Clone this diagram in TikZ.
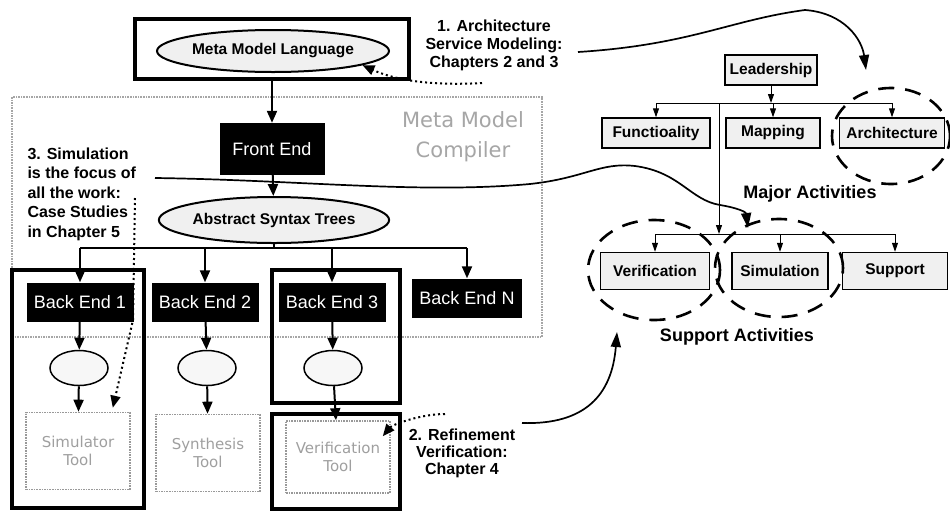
\documentclass[tikz,border=0pt]{standalone}
\usepackage{fontspec}
\setmainfont{Liberation Sans}
\newfontfamily\widefont{DejaVu Sans}
\usetikzlibrary{arrows.meta,shapes.geometric}

\begin{document}
\begin{tikzpicture}[x=1pt, y=-1pt,
  thickframe/.style = {draw, line width=4pt, inner sep=0pt},
  blackbox/.style = {fill=black, text=white, inner sep=0pt, minimum width=107pt, minimum height=39pt, font=\fontsize{18}{20}\selectfont},
  bigoval/.style = {ellipse, draw, line width=2pt, fill=black!6, inner sep=0pt, font=\bfseries\fontsize{15.5}{18}\selectfont},
  smalloval/.style = {ellipse, draw, line width=1.5pt, fill=black!3, minimum width=58pt, minimum height=35pt, inner sep=0pt},
  toolbox/.style = {draw=gray!80, densely dotted, line width=1.6pt, text=gray!75, minimum width=104pt, minimum height=77pt, inner sep=0pt, align=center, font=\widefont\fontsize{15}{18}\selectfont},
  actbox/.style = {draw, line width=1.4pt, fill=black!6, inner sep=0pt, minimum height=30pt, font=\bfseries\fontsize{15.5}{18}\selectfont},
  ring/.style = {ellipse, draw, line width=2.6pt, dash pattern=on 16pt off 11pt},
  note/.style = {align=center, font=\bfseries\fontsize{16}{18}\selectfont},
  flow/.style = {line width=2pt, -{Triangle[length=12pt,width=10pt]}},
  treearrow/.style = {line width=1pt, -{Triangle[length=9pt,width=6pt]}},
  pointer/.style = {line width=1.7pt, -{Triangle[length=15pt,width=10pt]}},
  hint/.style = {line width=2pt, dash pattern=on 2pt off 3pt, -{Triangle[length=12pt,width=10pt]}}
]
\useasboundingbox (0,0) rectangle (950,512);

% compiler area
\node[draw=gray!70, densely dotted, line width=1.6pt, fill=white, minimum width=530pt, minimum height=240pt, inner sep=0pt] (compiler) at (277,217) {};
\node[text=gray!70, align=center, font=\widefont\fontsize{21}{30}\selectfont] (compilername) at (463,137) {Meta Model\\Compiler};

\node[thickframe, minimum width=274pt, minimum height=60pt] (mmlframe) at (272,49) {};
\node[bigoval, minimum width=232pt, minimum height=42pt] (mml) at (273,51) {Meta Model Language};
\node[blackbox, minimum width=105pt, minimum height=52pt] (frontend) at (272,149) {Front End};
\node[bigoval, minimum width=228pt, minimum height=46pt] (ast) at (274,220) {Abstract Syntax Trees};
\coordinate (bus) at (274,248);

% back ends
\node[thickframe, minimum width=132pt, minimum height=238pt] (frameone) at (78,389) {};
\node[thickframe, minimum width=128pt, minimum height=133pt] (framethree) at (336,336.5) {};
\node[thickframe, minimum width=128pt, minimum height=95pt] (frameverif) at (336,461) {};
\node[blackbox] (beone) at (80,302) {Back End 1};
\node[blackbox] (betwo) at (205,302) {Back End 2};
\node[blackbox] (bethree) at (332,302) {Back End 3};
\node[blackbox, minimum width=110pt] (ben) at (467,298) {Back End N};
\node[smalloval] (ovone) at (79,368) {};
\node[smalloval] (ovtwo) at (207,368) {};
\node[smalloval] (ovthree) at (333,368) {};
\node[toolbox] (simtool) at (78,451) {Simulator\\Tool};
\node[toolbox] (syntool) at (208,453) {Synthesis\\Tool};
\node[toolbox, minimum height=72pt] (vertool) at (338,457) {Verification\\Tool};

\draw[flow] (mmlframe.south) -- (frontend.north);
\draw[flow] (frontend) -- (ast);
\draw[line width=2pt] (ast.south) -- (bus);
\draw[line width=2pt] (beone.north |- bus) -- (ben.north |- bus);
\draw[flow] (beone.north |- bus) -- (beone.north);
\draw[flow] (betwo.north |- bus) -- (betwo.north);
\draw[flow] (bethree.north |- bus) -- (bethree.north);
\draw[flow] (ben.north |- bus) -- (ben.north);
\draw[flow] (beone) -- (ovone);
\draw[flow] (betwo) -- (ovtwo);
\draw[flow] (bethree) -- (ovthree);
\draw[flow] (ovone) -- (simtool);
\draw[flow] (ovtwo) -- (syntool);
\draw[flow] (ovthree) -- (vertool);

% activities
\node[actbox, minimum width=92pt] (lead) at (771,70) {Leadership};
\coordinate (majorbus) at (771,103);
\node[actbox, minimum width=108pt] (func) at (656,133) {Functioality};
\node[actbox, minimum width=94pt] (mapping) at (773,133) {Mapping};
\node[actbox, minimum width=105pt] (arch) at (892,133) {Architecture};
\node[font=\bfseries\fontsize{18}{20}\selectfont] (majorlbl) at (810,194) {Major Activities};
\coordinate (supportbus) at (719,234);
\node[actbox, minimum width=109pt, minimum height=37pt] (verif) at (655,271) {Verification};
\node[actbox, minimum width=96pt, minimum height=37pt] (simul) at (780,271) {Simulation};
\node[actbox, minimum width=105pt, minimum height=37pt] (supp) at (895,271) {Support};
\node[font=\bfseries\fontsize{18}{20}\selectfont] (supportlbl) at (737,337) {Support Activities};

\draw[treearrow] (lead) -- (majorbus);
\draw[line width=1pt] (func.north |- majorbus) -- (arch.north |- majorbus);
\draw[treearrow] (func.north |- majorbus) -- (func.north);
\draw[treearrow] (mapping.north |- majorbus) -- (mapping.north);
\draw[treearrow] (arch.north |- majorbus) -- (arch.north);
\draw[treearrow] (majorbus -| supportbus) -- (supportbus);
\draw[line width=1pt] (verif.north |- supportbus) -- (supp.north |- supportbus);
\draw[treearrow] (verif.north |- supportbus) -- (verif.north);
\draw[treearrow] (simul.north |- supportbus) -- (simul.north);
\draw[treearrow] (supp.north |- supportbus) -- (supp.north);

\node[ring, minimum width=118pt, minimum height=96pt] (archring) at (891,136) {};
\node[ring, minimum width=132pt, minimum height=100pt] (verring) at (654,270) {};
\node[ring, minimum width=128pt, minimum height=98pt] (simring) at (779,268) {};

% notes
\node[note] (notearch) at (494,45) {1. Architecture\\Service Modeling:\\Chapters 2 and 3};
\node[note, align=left, anchor=west, font=\bfseries\fontsize{16}{19.5}\selectfont] (notesim) at (24,194) {3. Simulation\\is the focus of\\all the work:\\Case Studies\\in Chapter 5};
\node[note, font=\bfseries\fontsize{16}{17}\selectfont] (noteref) at (462,453) {2. Refinement\\Verification:\\Chapter 4};

\coordinate (archhint) at (482,83);
\coordinate (simhint) at (135,198);
\coordinate (refhint) at (445,414);
\draw[hint] (archhint) .. controls (430,86) and (395,80) .. (mml.-9);
\draw[hint] (simhint) -- ++(-2,122) -- ([xshift=-18pt,yshift=4pt]simtool.north east);
\draw[hint] (refhint) .. controls (420,414) and (392,425) .. ([xshift=-8pt,yshift=-16pt]vertool.north east);

\coordinate (archstart) at (578,52);
\coordinate (archtip) at (866,70);
\coordinate (simstart) at (155,178);
\coordinate (simtip) at (748,228);
\coordinate (refstart) at (522,423);
\coordinate (reftip) at (617,332);
\draw[pointer] (archstart) .. controls (690,45) and (730,20) .. (805,10) .. controls (845,13) and (862,40) .. (archtip);
\draw[pointer] (simstart) .. controls (300,180) and (420,194) .. (530,184) .. controls (585,178) and (600,162) .. (635,166) .. controls (680,172) and (690,200) .. (720,205) .. controls (738,208) and (746,212) .. (simtip);
\draw[pointer] (refstart) .. controls (585,425) and (612,395) .. (reftip);
\end{tikzpicture}
\end{document}
